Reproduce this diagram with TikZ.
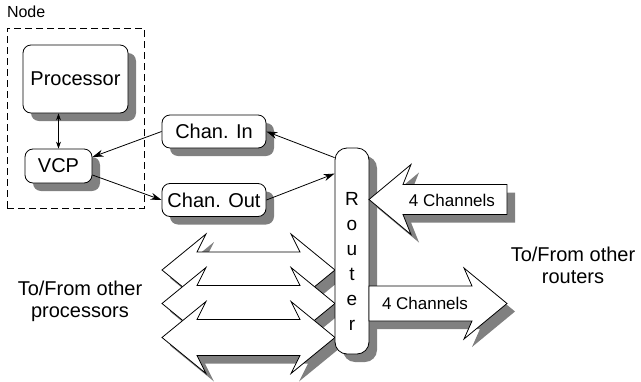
\documentclass[tikz,border=0pt]{standalone}
\usepackage{fontspec}
\setmainfont{Liberation Sans}
\usetikzlibrary{arrows.meta,positioning,calc,shadows}
\definecolor{shadowgray}{gray}{0.5}
\tikzset{
    >={Stealth[length=11pt,width=7pt]},
    every picture/.style={line width=0.8pt},
    unit/.style={draw,fill=white,rounded corners=8pt,inner sep=0pt,
        drop shadow={shadow xshift=8pt,shadow yshift=-8pt,fill=shadowgray,opacity=1}},
    bigarrow/.style={draw,fill=white,line join=miter,
        drop shadow={shadow xshift=8pt,shadow yshift=-8pt,fill=shadowgray,opacity=1}},
    txt/.style={font=\fontsize{20}{22}\selectfont},
    smalltxt/.style={font=\fontsize{17}{20}\selectfont}
}

\begin{document}
\begin{tikzpicture}[x=1pt,y=-1pt]
    \useasboundingbox (0,0) rectangle (641,381);
    % Node frame
    \node[draw,dash pattern=on 7pt off 4pt,minimum width=137pt,minimum height=180pt,inner sep=0pt] (frame) at (75.5,118) {};
    \node[font=\fontsize{16}{18}\selectfont,anchor=base west,inner sep=0pt] (framelabel) at ([yshift=10pt]frame.north west) {Node};

    % Units
    \node[unit,txt,minimum width=105pt,minimum height=68pt] (proc) at (75.5,79) {Processor};
    \node[unit,txt,minimum width=67pt,minimum height=34pt] (vcp) at (58.5,166) {VCP};
    \node[unit,txt,minimum width=104pt,minimum height=33pt] (chin) at (214,131.5) {Chan. In};
    \node[unit,txt,minimum width=104pt,minimum height=33pt] (chout) at (214,200) {Chan. Out};

    % Links to other processors: shadows first, then the arrows
    \foreach \c in {270,303.5,337.5} {
        \fill[shadowgray,shift={(8,8)}] (162,\c) -- (206,\c-36) -- (197,\c-18) -- (300,\c-18) -- (291,\c-36) -- (335,\c)
            -- (291,\c+36) -- (300,\c+18) -- (197,\c+18) -- (206,\c+36) -- cycle;
    }
    \foreach \c in {270,303.5,337.5} {
        \draw[fill=white,line join=miter] (162,\c) -- (206,\c-36) -- (197,\c-18) -- (300,\c-18) -- (291,\c-36) -- (335,\c)
            -- (291,\c+36) -- (300,\c+18) -- (197,\c+18) -- (206,\c+36) -- cycle;
    }

    % Router
    \node[unit,rounded corners=12pt,minimum width=34pt,minimum height=206pt] (router) at (352,251) {};
    \node[font=\fontsize{19}{25}\selectfont,align=center,inner sep=0pt] (routertxt) at ([yshift=-10pt]router.center) {R\\o\\u\\t\\e\\r};

    % Links to other routers
    \draw[bigarrow] (403,184.5) -- (507,184.5) -- (507,214.5) -- (403,214.5) -- (411,234.5)
        -- (369,199.5) -- (411,164.5) -- cycle;
    \node[smalltxt] (inlabel) at (452,200) {4 Channels};
    \draw[bigarrow] (369,286) -- (472,286) -- (464,268) -- (507,303.5) -- (464,339)
        -- (472,321) -- (369,321) -- cycle;
    \node[smalltxt] (outlabel) at (425,303) {4 Channels};

    % Connectors
    \draw[{Stealth[length=7pt,width=5pt]}-{Stealth[length=7pt,width=5pt]}] (vcp.north) -- (vcp.north |- proc.south);
    \draw[->] ([yshift=-10pt]router.north west) -- (chin.east);
    \draw[->] (chin.west) -- ([yshift=9pt]vcp.east);
    \draw[->] ([yshift=-9pt]vcp.east) -- (chout.west);
    \draw[->] (chout.east) -- ([yshift=-26pt]router.north west);

    % Side texts
    \node[txt,align=center] (proclinks) at (80,301.5) {To/From other\\processors};
    \node[txt,align=center] (routerlinks) at (573,265) {To/From other\\routers};
\end{tikzpicture}
\end{document}
